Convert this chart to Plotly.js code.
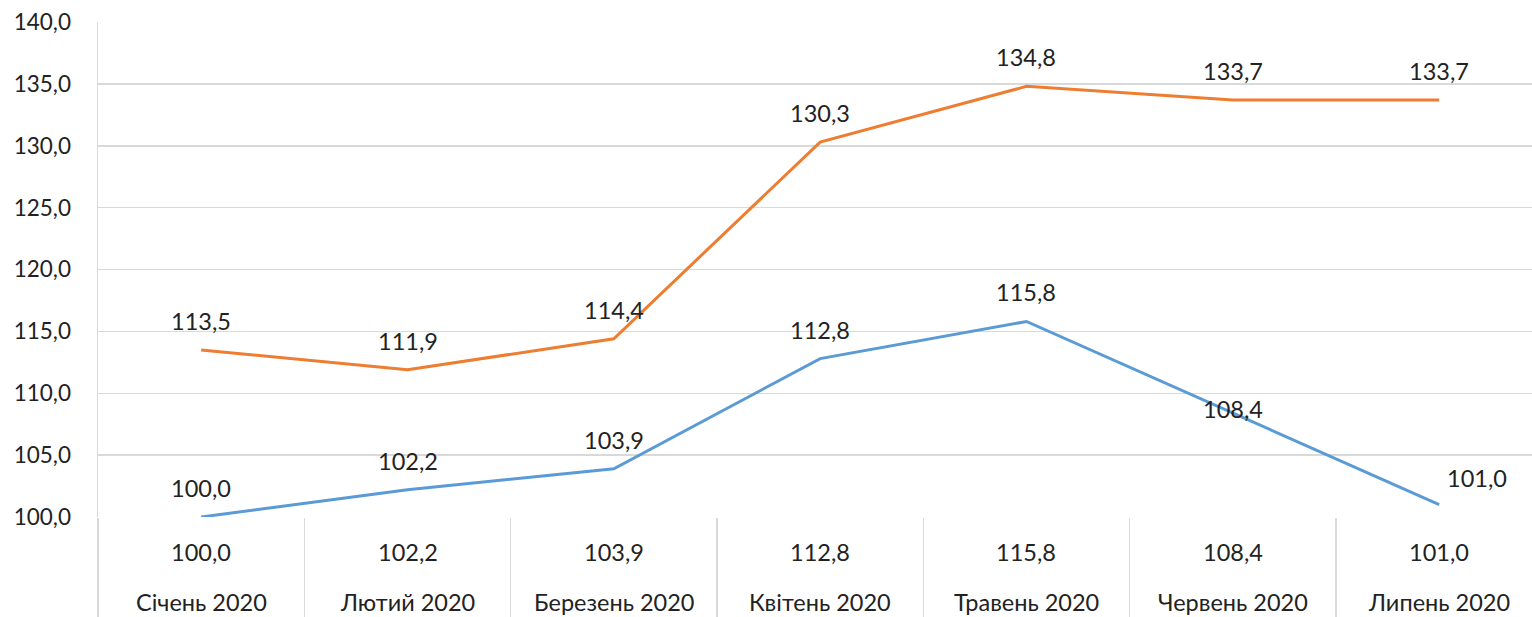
<!DOCTYPE html>
<html>
<head>
<meta charset="utf-8">
<script src="https://cdn.plot.ly/plotly-3.0.1.min.js"></script>
<style>
html,body{margin:0;padding:0;background:#fff;}
#chart{width:1532px;height:617px;}
</style>
</head>
<body>
<div id="chart"></div>
<script>
// ---- data ----
const categories = ["Січень 2020","Лютий 2020","Березень 2020","Квітень 2020","Травень 2020","Червень 2020","Липень 2020"];
const seriesBlue = [100.0, 102.2, 103.9, 112.8, 115.8, 108.4, 101.0];
const seriesOrange = [113.5, 111.9, 114.4, 130.3, 134.8, 133.7, 133.7];
const yTickValues = [100, 105, 110, 115, 120, 125, 130, 135, 140];

// ---- styles ----
const FONT = "Lato, 'Open Sans', sans-serif";
const TXT = "#222222";
const FS = 23.5;
const FS_Y = 22.5;
const BLUE = "#5B9BD5";
const ORANGE = "#ED7D31";
const GRID = "#d9d9d9";

function fmt(v){ return v.toFixed(1).replace('.', ','); }

const traces = [
  {x: categories, y: seriesOrange, type: 'scatter', mode: 'lines',
   line: {color: ORANGE, width: 3}, hoverinfo: 'skip'},
  {x: categories, y: seriesBlue, type: 'scatter', mode: 'lines',
   line: {color: BLUE, width: 3}, hoverinfo: 'skip'}
];

const annotations = [];
// data labels
seriesOrange.forEach((v, i) => {
  annotations.push({x: categories[i], y: v, xref: 'x', yref: 'y', text: fmt(v),
    showarrow: false, yshift: 29, font: {family: FONT, size: FS, color: TXT}});
});
const blueShift = [29, 29, 29, 29, 29, 4, 27];
const blueXShift = [0, 0, 0, 0, 0, 0, 38];
seriesBlue.forEach((v, i) => {
  annotations.push({x: categories[i], y: v, xref: 'x', yref: 'y', text: fmt(v),
    showarrow: false, yshift: blueShift[i], xshift: blueXShift[i],
    font: {family: FONT, size: FS, color: TXT}});
});
// data table below
seriesBlue.forEach((v, i) => {
  annotations.push({x: categories[i], y: -0.07, xref: 'x', yref: 'paper', text: fmt(v),
    showarrow: false, yanchor: 'middle', font: {family: FONT, size: FS, color: TXT}});
  annotations.push({x: categories[i], y: -0.172, xref: 'x', yref: 'paper', text: categories[i],
    showarrow: false, yanchor: 'middle', font: {family: FONT, size: FS, color: TXT}});
});

const layout = {
  width: 1532, height: 617,
  margin: {l: 98, r: 0, t: 22, b: 100},
  paper_bgcolor: '#fff', plot_bgcolor: '#fff',
  showlegend: false,
  separators: ',.',
  font: {family: FONT, size: FS, color: TXT},
  xaxis: {
    type: 'category', range: [-0.5, 6.45],
    showgrid: false, zeroline: false, showline: false,
    tickson: 'boundaries', ticks: 'outside', ticklen: 100, tickwidth: 1.5, tickcolor: GRID,
    showticklabels: false, fixedrange: true
  },
  yaxis: {
    range: [100, 140], tickvals: yTickValues, tickformat: '.1f',
    showgrid: true, gridcolor: GRID, gridwidth: 1.5,
    zeroline: false, showline: true, linecolor: GRID, linewidth: 1.5,
    ticks: 'outside', ticklen: 21, tickcolor: 'rgba(0,0,0,0)',
    tickfont: {family: FONT, size: FS_Y, color: TXT}, fixedrange: true
  },
  annotations: annotations
};

Plotly.newPlot('chart', traces, layout, {displayModeBar: false, staticPlot: true});
</script>
</body>
</html>
